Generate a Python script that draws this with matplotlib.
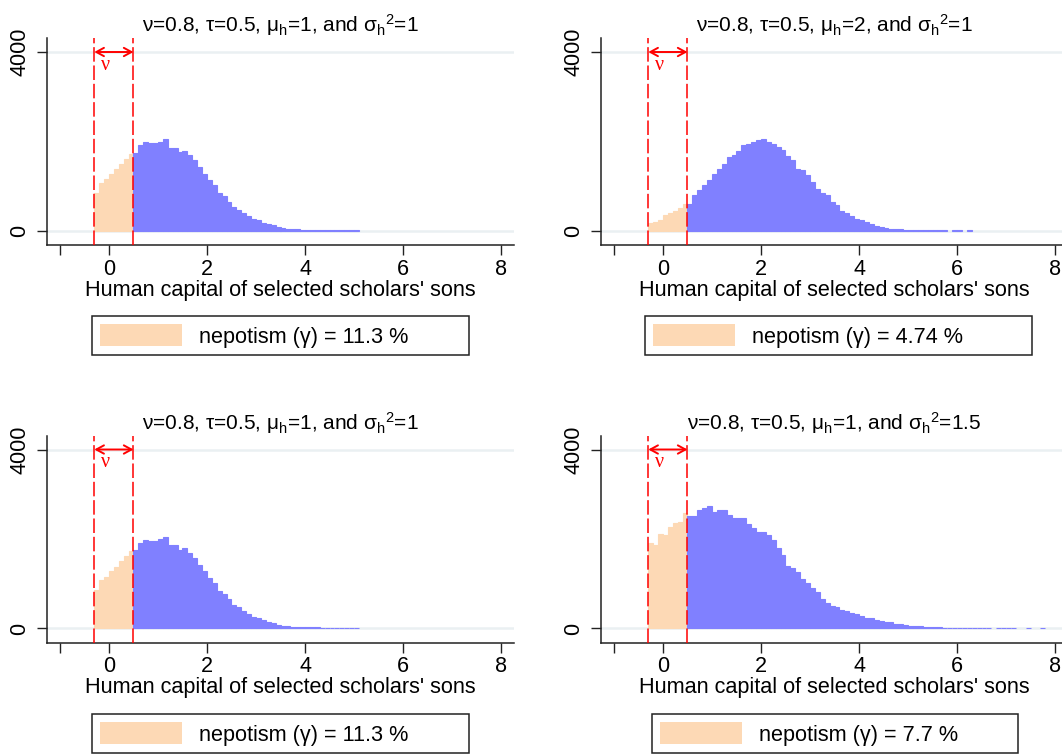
import matplotlib.pyplot as plt
from matplotlib.patches import Rectangle

plt.rcParams['font.family'] = ['Liberation Sans', 'DejaVu Sans']
plt.rcParams['mathtext.fontset'] = 'custom'
plt.rcParams['mathtext.rm'] = 'Liberation Sans'
plt.rcParams['mathtext.it'] = 'Liberation Sans'
plt.rcParams['mathtext.default'] = 'regular'

# histogram bins: width 0.1, nepotism bins start at -0.3, merit bins start at 0.5
bin_width = 0.1
nepo_start = -0.3
merit_start = 0.5
nu_left, nu_right = -0.3, 0.5

# mu_h=1, sigma_h^2=1 (top-left and bottom-left panels)
nepo_base = [857, 1080, 1155, 1281, 1378, 1505, 1616, 1728]
merit_base = [1750, 1914, 1981, 1966, 1966, 1989, 2048, 1862, 1862, 1765,
              1788, 1691, 1579, 1430, 1281, 1132, 1020, 849, 775, 648,
              536, 477, 402, 328, 261, 238, 179, 149, 127, 89,
              60, 52, 40, 35, 32, 28, 26, 24, 22, 22,
              20, 20, 20, 18, 18, 18]

# mu_h=2, sigma_h^2=1 (top-right)
nepo_mu2 = [179, 201, 238, 350, 402, 447, 521, 611]
merit_mu2 = [611, 797, 909, 1020, 1132, 1281, 1393, 1505, 1654, 1691,
             1788, 1914, 1937, 1989, 2026, 2063, 1989, 1952, 1877, 1803,
             1669, 1579, 1393, 1356, 1244, 1095, 946, 849, 797, 648,
             574, 447, 402, 328, 276, 238, 201, 149, 104, 89,
             74, 52, 45, 37, 32, 30, 26, 24, 22, 20,
             20, 18, 18, 0, 18, 18, 0, 18]

# mu_h=1, sigma_h^2=1.5 (bottom-right)
nepo_var15 = [1918, 1866, 2112, 2089, 2275, 2349, 2387, 2572]
merit_var15 = [2513, 2513, 2647, 2684, 2736, 2602, 2647, 2647, 2535, 2461,
               2476, 2461, 2335, 2238, 2149, 2149, 2089, 1978, 1792, 1643,
               1405, 1346, 1271, 1100, 1011, 900, 825, 654, 580, 506,
               491, 416, 401, 342, 327, 283, 230, 230, 193, 178,
               156, 134, 104, 104, 67, 59, 59, 45, 37, 30,
               28, 24, 22, 22, 20, 20, 20, 20, 18, 18,
               18, 18, 0, 18, 18, 18, 18, 0, 0, 18,
               0, 0, 18]

nepo_counts = [nepo_base, nepo_mu2, nepo_base, nepo_var15]
merit_counts = [merit_base, merit_mu2, merit_base, merit_var15]

titles = [
    'ν=0.8, τ=0.5, μ${}_\\mathrm{h}$=1, and σ${}_\\mathrm{h}{}^\\mathrm{2}$=1',
    'ν=0.8, τ=0.5, μ${}_\\mathrm{h}$=2, and σ${}_\\mathrm{h}{}^\\mathrm{2}$=1',
    'ν=0.8, τ=0.5, μ${}_\\mathrm{h}$=1, and σ${}_\\mathrm{h}{}^\\mathrm{2}$=1',
    'ν=0.8, τ=0.5, μ${}_\\mathrm{h}$=1, and σ${}_\\mathrm{h}{}^\\mathrm{2}$=1.5',
]
gamma_pct = ['11.3', '4.74', '11.3', '7.7']

xticks = [-1, 0, 2, 4, 6, 8]
xticklabels = ['', '0', '2', '4', '6', '8']
yticks = [0, 4000]

blue = '#8080ff'
peach = '#fdd9b5'
grid_col = '#eaf0f2'
axis_col = '#222222'

W, H = 1062, 754
fig = plt.figure(figsize=(W / 100, H / 100), dpi=100)


def fx(px):
    return px / W


def fy(py):
    return 1 - py / H


def draw_bins(ax, start, counts, color):
    # skip empty bins so gaps in the tail stay blank
    xs = [start + k * bin_width for k, c in enumerate(counts) if c > 0]
    hs = [c for c in counts if c > 0]
    ax.bar(xs, hs, width=bin_width, align='edge', color=color,
           edgecolor=color, lw=0.8, zorder=1)


# panel layout in pixels: (left, top) of each axes, plus legend offset/width
panel_pos = [(47, 38), (601, 38), (47, 435.5), (601, 435.5)]
ax_w, ax_h = 467, 207
leg_off = [45, 44, 45, 51]
leg_w = [377, 387, 377, 366]

for i in range(4):
    left, top = panel_pos[i]
    ax = fig.add_axes([fx(left), fy(top + ax_h), ax_w / W, ax_h / H])
    ax.set_xlim(-1.265, 8.265)
    ax.set_ylim(-313, 4313)

    for yv in yticks:
        ax.axhline(yv, color=grid_col, lw=1.8, zorder=0)

    draw_bins(ax, nepo_start, nepo_counts[i], peach)
    draw_bins(ax, merit_start, merit_counts[i], blue)

    for xv in (nu_left, nu_right):
        ax.axvline(xv, color='red', lw=1.1, ls=(0, (9.5, 2.5)), zorder=3)
    ax.annotate('', xy=(nu_left, 4000), xytext=(nu_right, 4000),
                arrowprops=dict(arrowstyle='<->,head_length=0.55,head_width=0.3',
                                color='red', lw=1.4, shrinkA=0, shrinkB=0), zorder=4)
    ax.text(-0.08, 3700, 'ν', color='red', fontsize=14.5, family='Liberation Serif',
            ha='center', va='center', zorder=4)

    ax.set_xticks(xticks)
    ax.set_xticklabels(xticklabels)
    ax.set_yticks(yticks)
    ax.set_yticklabels(['0', '4000'], rotation=90, va='center')
    ax.tick_params(axis='both', length=7, width=1, color=axis_col, labelsize=15.6)
    ax.tick_params(axis='x', pad=3)
    ax.tick_params(axis='y', pad=5)
    for s in ('top', 'right'):
        ax.spines[s].set_visible(False)
    for s in ('left', 'bottom'):
        ax.spines[s].set_color(axis_col)
        ax.spines[s].set_linewidth(1.1)

    ax.set_xlabel("Human capital of selected scholars' sons", fontsize=15.6, labelpad=0)
    ax.set_title(titles[i], fontsize=15, pad=4)

    # legend box
    bx = left + leg_off[i]
    by = top + ax_h + 71
    fig.add_artist(Rectangle((fx(bx), fy(by + 39)), leg_w[i] / W, 39 / H,
                             transform=fig.transFigure, facecolor='white',
                             edgecolor=axis_col, lw=1.1))
    fig.add_artist(Rectangle((fx(bx + 8), fy(by + 30)), 82 / W, 22 / H,
                             transform=fig.transFigure, facecolor=peach, lw=0))
    fig.text(fx(bx + 107), fy(by + 27), 'nepotism (γ) = ' + gamma_pct[i] + ' %',
             fontsize=15.6, ha='left', va='baseline')

fig.savefig('out.png', dpi=100)
